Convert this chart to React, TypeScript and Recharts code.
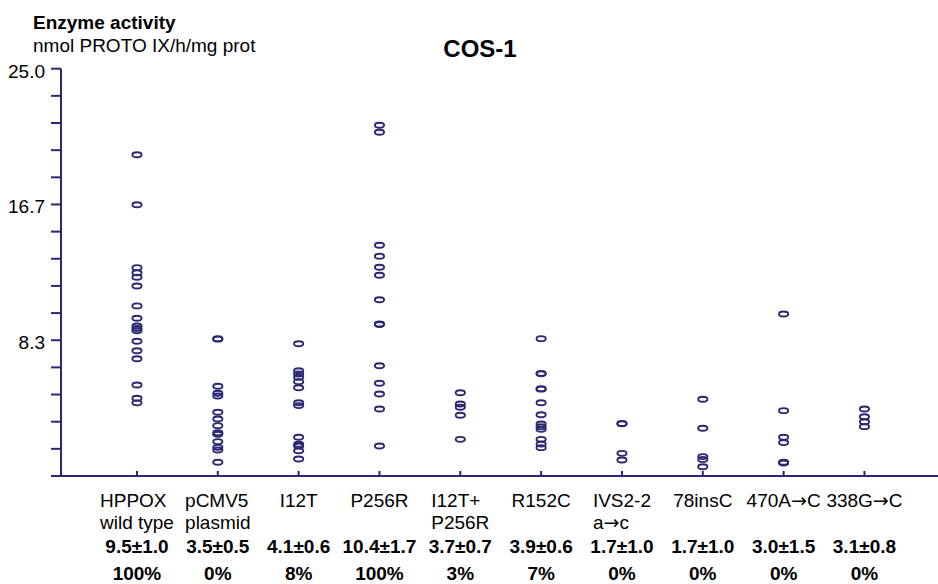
import React from 'react';
import { ScatterChart, Scatter, XAxis, YAxis } from 'recharts';

const NAVY = '#2b2873';
const FONT = "'Liberation Sans', Arial, Helvetica, sans-serif";
const ARROW_FONT = "'DejaVu Sans', 'Noto Sans', sans-serif";

// Category labels (name lines), mean±SD and % of wild type
const categoryNames: string[][] = [
  ['HPPOX', 'wild type'],
  ['pCMV5', 'plasmid'],
  ['I12T'],
  ['P256R'],
  ['I12T+', 'P256R'],
  ['R152C'],
  ['IVS2-2', 'a\u2192c'],
  ['78insC'],
  ['470A\u2192C'],
  ['338G\u2192C'],
];
const meanSd = ['9.5\u00b11.0', '3.5\u00b10.5', '4.1\u00b10.6', '10.4\u00b11.7', '3.7\u00b10.7', '3.9\u00b10.6', '1.7\u00b11.0', '1.7\u00b11.0', '3.0\u00b11.5', '3.1\u00b10.8'];
const percentOfWt = ['100%', '0%', '8%', '100%', '3%', '7%', '0%', '0%', '0%', '0%'];

// Measured enzyme activity values per construct
const hppoxWildType = [19.72, 16.65, 12.79, 12.48, 12.2, 11.66, 10.44, 9.68, 9.21, 9.05, 8.92, 8.27, 7.69, 7.2, 5.59, 4.77, 4.49];
const pcmv5Plasmid = [8.43, 8.4, 5.51, 5.08, 4.91, 3.91, 3.5, 3.09, 2.66, 2.56, 2.11, 1.76, 1.6, 0.84];
const i12t = [8.12, 6.46, 6.26, 6.06, 5.79, 5.42, 4.5, 4.32, 2.38, 1.95, 1.84, 1.55, 1.04];
const p256r = [21.53, 21.1, 14.16, 13.49, 12.81, 12.32, 10.82, 9.33, 9.3, 6.77, 5.69, 5.03, 4.11, 1.84];
const i12tP256r = [5.11, 4.42, 4.22, 3.73, 2.25];
const r152c = [8.43, 6.3, 6.27, 5.36, 5.33, 4.5, 3.76, 3.19, 3.03, 2.87, 2.25, 1.96, 1.74];
const ivs22 = [3.23, 3.2, 1.39, 0.98];
const ins78C = [4.71, 2.93, 1.19, 1.02, 0.57];
const a470c = [9.94, 4.01, 2.38, 2.05, 0.84, 0.8];
const g338c = [4.11, 3.64, 3.33, 3.03];

const seriesValues = [hppoxWildType, pcmv5Plasmid, i12t, p256r, i12tP256r, r152c, ivs22, ins78C, a470c, g338c];

const xTicks = [1, 2, 3, 4, 5, 6, 7, 8, 9, 10];
const yTicks = [0, 1.667, 3.333, 5, 6.667, 8.333, 10, 11.667, 13.333, 15, 16.667, 18.333, 20, 21.667, 23.333, 25];
const yTickLabels: Record<string, string> = { '8.333': '8.3', '16.667': '16.7', '25': '25.0' };

const points = seriesValues.flatMap((vals, i) => vals.map((v) => ({ x: xTicks[i], y: v })));

let ctx: CanvasRenderingContext2D | null = null;
function measure(text: string): number {
  if (!ctx) {
    const c = document.createElement('canvas');
    ctx = c.getContext('2d');
  }
  if (!ctx) return text.length * 10;
  let w = 0;
  const parts = text.split('\u2192');
  parts.forEach((p, k) => {
    ctx!.font = `19px ${FONT}`;
    w += ctx!.measureText(p).width;
    if (k < parts.length - 1) {
      ctx!.font = `19px ${ARROW_FONT}`;
      w += ctx!.measureText('\u2192').width;
    }
  });
  return w;
}

function renderLine(text: string) {
  const parts = text.split('\u2192');
  const out: React.ReactNode[] = [];
  parts.forEach((p, k) => {
    out.push(<tspan key={'p' + k}>{p}</tspan>);
    if (k < parts.length - 1) {
      out.push(
        <tspan key={'a' + k} fontFamily={ARROW_FONT}>
          {'\u2192'}
        </tspan>
      );
    }
  });
  return out;
}

const XTick = (props: any) => {
  const { x, y, payload } = props;
  const i = Math.round(payload.value) - 1;
  const lines = categoryNames[i] || [];
  const w = Math.max(...lines.map(measure));
  const left = x - w / 2;
  return (
    <g>
      <line x1={x} x2={x} y1={y} y2={y - 5} stroke={NAVY} strokeWidth={2} />
      {lines.map((l, k) => (
        <text key={k} x={left} y={y + 31 + k * 22} fontSize={19} fontFamily={FONT} fill="#000" textAnchor="start">
          {renderLine(l)}
        </text>
      ))}
      <text x={x} y={y + 77} fontSize={19} fontWeight="bold" fontFamily={FONT} fill="#000" textAnchor="middle">
        {meanSd[i]}
      </text>
      <text x={x} y={y + 104} fontSize={19} fontWeight="bold" fontFamily={FONT} fill="#000" textAnchor="middle">
        {percentOfWt[i]}
      </text>
    </g>
  );
};

const YTick = (props: any) => {
  const { x, y, payload } = props;
  const label = yTickLabels[String(payload.value)];
  if (!label) return <g />;
  return (
    <text x={x - 2} y={y + 9} fontSize={19} fontFamily={FONT} fill="#000" textAnchor="end">
      {label}
    </text>
  );
};

const Marker = (props: any) => {
  const { cx, cy } = props;
  if (cx == null || cy == null) return <g />;
  return <ellipse cx={cx} cy={cy} rx={4.6} ry={2.5} fill="none" stroke={NAVY} strokeWidth={1.9} />;
};

export default function App() {
  return (
    <div style={{ position: 'absolute', left: 0, top: 0, width: 938, height: 584, background: '#fff' }}>
      <ScatterChart width={938} height={584} margin={{ top: 68.7, right: 0, bottom: 8, left: 0 }}>
        <XAxis
          type="number"
          dataKey="x"
          domain={[0.06, 10.91]}
          ticks={xTicks}
          interval={0}
          allowDataOverflow
          height={100}
          tickSize={0}
          tickMargin={0}
          axisLine={{ stroke: NAVY, strokeWidth: 2 }}
          tickLine={false}
          tick={<XTick />}
        />
        <YAxis
          type="number"
          dataKey="y"
          domain={[0, 25]}
          ticks={yTicks}
          interval={0}
          allowDataOverflow
          width={61}
          tickSize={10}
          tickMargin={4}
          axisLine={{ stroke: NAVY, strokeWidth: 2 }}
          tickLine={{ stroke: NAVY, strokeWidth: 2 }}
          tick={<YTick />}
        />
        <Scatter data={points} isAnimationActive={false} shape={<Marker />} />
      </ScatterChart>
      <svg width={938} height={584} style={{ position: 'absolute', left: 0, top: 0, pointerEvents: 'none' }}>
        <text x={33} y={29} fontSize={19} fontWeight="bold" fontFamily={FONT} fill="#000">
          Enzyme activity
        </text>
        <text x={33} y={52} fontSize={19} fontFamily={FONT} fill="#000">
          nmol PROTO IX/h/mg prot
        </text>
        <text x={480} y={57} fontSize={24} fontWeight="bold" fontFamily={FONT} fill="#000" textAnchor="middle">
          COS-1
        </text>
      </svg>
    </div>
  );
}
